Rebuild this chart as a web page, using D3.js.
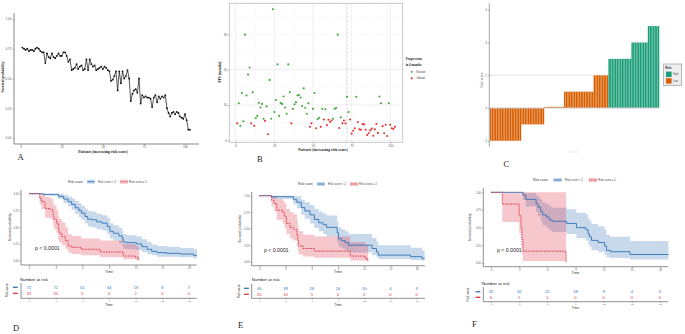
<!DOCTYPE html>
<html lang="en">
<head>
<meta charset="UTF-8">
<script src="https://cdn.jsdelivr.net/npm/d3@7"></script>
<title>Risk score figure</title>
<style>
  body { margin:0; background:#fff; }
  svg { display:block; font-family:"Liberation Sans", Arial, sans-serif; }
</style>
</head>
<body>
<div id="container"></div>
<script>
// ---------- data ----------
// A: survival probability per patient, ordered by risk score
var survA = [0.76,0.75,0.74,0.75,0.73,0.74,0.74,0.73,0.75,0.76,0.75,0.73,0.72,0.72,0.63,0.71,0.68,0.67,0.71,0.68,
             0.67,0.69,0.71,0.69,0.69,0.72,0.72,0.69,0.64,0.66,0.57,0.58,0.59,0.62,0.58,0.60,0.61,0.57,0.58,0.66,
             0.57,0.66,0.62,0.60,0.61,0.57,0.58,0.59,0.60,0.58,0.60,0.59,0.57,0.56,0.48,0.49,0.52,0.56,0.40,0.56,
             0.46,0.56,0.50,0.52,0.57,0.50,0.31,0.37,0.40,0.41,0.38,0.50,0.29,0.36,0.34,0.35,0.34,0.34,0.33,0.26,
             0.34,0.36,0.30,0.35,0.33,0.35,0.34,0.36,0.25,0.21,0.18,0.21,0.22,0.20,0.22,0.21,0.18,0.17,0.16,0.20,
             0.15,0.07,0.07];
var ticksA = [0, 25, 50, 75, 100];
var ticksSurv = [0, 0.25, 0.5, 0.75, 1];

// B: PFS (months) and progression in 6 months (1 = Present, 0 = Absent)
var pfsB = [4.8,10.5,4.1,13.4,5.4,29.9,12.7,18.6,20.6,4.8,13.6,4.1,6.3,6.9,10.6,9.3,10.3,6.1,5.5,9.6,
            1.7,17.1,6.1,37.1,8.0,11.4,21.5,6.9,10.6,10.3,12.4,9.3,7.5,21.5,13.6,4.8,8.9,10.2,10.8,12.7,
            12.8,12.1,9.7,14.7,9.2,7.5,10.5,3.8,4.8,8.9,13.4,3.4,6.0,6.4,3.8,8.9,5.9,8.8,4.3,5.8,
            5.2,5.6,6.1,8.9,9.2,29.9,3.5,6.5,4.8,5.6,4.8,12.3,8.0,5.9,1.9,2.7,3.4,12.3,5.2,3.1,
            3.0,4.6,4.5,3.0,1.5,2.0,2.8,3.3,1.3,3.1,4.6,2.1,12.4,10.5,4.0,2.0,4.4,1.2,10.5,4.4,
            3.4,3.2,3.8];
var progB = [0,1,1,1,1,1,1,1,1,0,1,0,1,1,1,1,1,1,0,1,
             0,1,1,1,1,1,1,1,1,1,1,1,1,1,1,0,1,1,1,1,
             1,1,1,1,1,1,1,0,0,1,1,0,1,1,0,1,0,1,0,0,
             0,0,1,1,1,1,0,1,0,0,0,1,1,0,0,0,0,1,0,0,
             0,0,0,0,0,0,0,0,0,0,0,0,1,1,0,0,0,0,1,0,
             0,0,0];
var ticksPfs = [0, 10, 20, 30];
var cutB = 72;

// C: risk score levels and how many patients have each
var riskLevels = [-2, -1, 0, 1, 2, 3, 4, 5];
var riskCounts = [19, 14, 12, 18, 9, 14, 10, 7];
var riskGroups = ["Low", "Low", "Low", "Low", "Low", "High", "High", "High"];
var ticksRisk = [-2, 0, 2, 4, 6];

// D-F: Kaplan-Meier steps (time, survival, lower / upper CI)
var ticksTime = [0, 3, 6, 9, 12, 15, 18];

var D_low = {t:[0,1.6,3.3,3.9,4.4,4.8,5.2,5.6,5.9,6.3,6.6,7.1,7.6,8.2,8.8,9.1,9.5,10.1,10.5,10.6,11.0,12.1,12.7,13.3,13.8,14.4,15.5,17.0,18.5],
             s:[1,0.99,0.96,0.92,0.88,0.84,0.79,0.75,0.71,0.66,0.62,0.61,0.58,0.56,0.51,0.44,0.41,0.37,0.33,0.28,0.27,0.25,0.21,0.17,0.14,0.12,0.11,0.10,0.08],
             hi:[1,1,1,0.98,0.96,0.93,0.89,0.86,0.82,0.78,0.74,0.73,0.70,0.68,0.64,0.56,0.53,0.49,0.45,0.40,0.38,0.36,0.32,0.28,0.24,0.22,0.21,0.19,0.17],
             lo:[1,0.97,0.92,0.86,0.81,0.76,0.70,0.65,0.61,0.56,0.51,0.50,0.47,0.45,0.40,0.33,0.30,0.26,0.22,0.18,0.17,0.16,0.13,0.10,0.08,0.06,0.06,0.05,0.035],
             end:18.9};
var D_high = {t:[0,1.2,1.4,1.8,2.4,2.7,2.8,3.1,3.3,3.4,3.7,4.1,4.4,4.8,5.9,8.0,10.6,12.0,12.3],
              s:[1,0.93,0.88,0.78,0.76,0.68,0.62,0.56,0.46,0.41,0.36,0.30,0.22,0.20,0.17,0.13,0.07,0.05,0.02],
              hi:[1,1,1,0.95,0.93,0.87,0.82,0.76,0.66,0.62,0.57,0.50,0.40,0.37,0.33,0.30,0.25,0.22,0.20],
              lo:[1,0.84,0.77,0.64,0.62,0.53,0.47,0.41,0.31,0.27,0.23,0.18,0.12,0.10,0.08,0.05,0.02,0.01,0],
              end:12.4};
var D_riskLow = [72, 71, 51, 34, 19, 8, 7];
var D_riskHigh = [31, 20, 5, 4, 2, 0, 0];

var E_low = {t:[0,1.4,3.9,4.3,4.8,5.2,5.8,6.3,6.8,7.3,7.7,8.9,9.05,9.4,9.8,10.2,12.9,13.4,13.6,17.3,18.6],
             s:[1,0.985,0.94,0.90,0.82,0.77,0.71,0.64,0.59,0.56,0.52,0.44,0.35,0.32,0.29,0.25,0.20,0.15,0.10,0.076,0.05],
             hi:[1,1,1,0.99,0.94,0.90,0.86,0.80,0.76,0.73,0.70,0.61,0.52,0.49,0.46,0.42,0.36,0.31,0.25,0.21,0.17],
             lo:[1,0.95,0.87,0.81,0.71,0.65,0.58,0.51,0.46,0.42,0.38,0.30,0.23,0.20,0.17,0.14,0.10,0.07,0.04,0.025,0.01],
             end:18.9};
var E_high = {t:[0,1.4,1.7,2.0,2.7,2.9,3.1,3.5,3.9,4.3,4.4,4.5,5.0,6.3,10.4,12.1,12.4],
              s:[1,0.93,0.88,0.78,0.74,0.68,0.58,0.52,0.49,0.40,0.32,0.24,0.20,0.16,0.086,0.05,0.015],
              hi:[1,1,1,0.95,0.92,0.88,0.80,0.75,0.72,0.63,0.55,0.46,0.41,0.38,0.30,0.26,0.24],
              lo:[1,0.84,0.76,0.63,0.58,0.51,0.42,0.35,0.32,0.24,0.17,0.11,0.08,0.06,0.02,0.01,0],
              end:12.45};
var E_riskLow = [40, 39, 28, 16, 10, 4, 3];
var E_riskHigh = [25, 16, 5, 4, 2, 0, 0];

var F_low = {t:[0,3.4,3.7,4.8,5.0,5.3,5.5,5.9,6.2,6.5,8.05,9.1,10.1,10.35,10.5,10.7,11.4,12.1,12.3,12.7,14.8],
             s:[1,0.96,0.90,0.84,0.79,0.73,0.68,0.65,0.61,0.59,0.56,0.50,0.47,0.41,0.37,0.32,0.29,0.24,0.18,0.16,0.12],
             hi:[1,1,0.99,0.96,0.93,0.89,0.85,0.83,0.80,0.78,0.76,0.71,0.69,0.63,0.60,0.55,0.52,0.47,0.40,0.37,0.31],
             lo:[1,0.89,0.80,0.72,0.66,0.59,0.53,0.50,0.46,0.44,0.41,0.35,0.32,0.26,0.23,0.18,0.16,0.12,0.08,0.07,0.05],
             end:18.9};
var F_high = {t:[0,1.2,3.0,3.2,3.3,3.4,8.0],
              s:[1,0.833,0.667,0.5,0.333,0.167,0],
              hi:[1,1,1,1,1,1,0],
              lo:[1,0.58,0.42,0.25,0.12,0.03,0],
              end:8.0};
var F_riskLow = [32, 32, 22, 18, 9, 4, 4];
var F_riskHigh = [6, 5, 1, 0, 0, 0, 0];

// ---------- drawing ----------
var svg = d3.select("#container").append("svg").attr("width", 685).attr("height", 334);
var serif = "'Liberation Serif', 'Times New Roman', serif";
var blue = "#3274b8", red = "#dc2f41";

function styleAxis(sel, fs) {
    sel.select(".domain").remove();
    sel.selectAll("line").attr("stroke", "#444").attr("stroke-width", 0.4);
    sel.selectAll("text").attr("font-size", fs).attr("fill", "#555");
}
function vline(x, y0, y1, col, w) {
    svg.append("line").attr("x1", x).attr("x2", x).attr("y1", y0).attr("y2", y1)
        .attr("stroke", col || "#444").attr("stroke-width", w || 0.6);
}
function hline(y, x0, x1, col, w) {
    svg.append("line").attr("x1", x0).attr("x2", x1).attr("y1", y).attr("y2", y)
        .attr("stroke", col || "#444").attr("stroke-width", w || 0.6);
}
function label(txt, x, y, fs, opt) {
    opt = opt || {};
    var t = svg.append("text").attr("x", x).attr("y", y).attr("font-size", fs).text(txt)
        .attr("text-anchor", opt.anchor || "start").attr("fill", opt.fill || "#222");
    if (opt.serif) t.attr("font-family", serif);
    if (opt.bold) t.attr("font-weight", "bold");
    if (opt.rotate) t.attr("transform", "rotate(-90," + x + "," + y + ")");
    return t;
}

// ===== A: survival probability line =====
var xA = d3.scaleLinear().domain([0, 100]).range([20.7, 185]);
var yA = d3.scaleLinear().domain([0, 1]).range([138, 19]);
svg.append("g").attr("transform", "translate(14,0)")
    .call(d3.axisLeft(yA).tickValues(ticksSurv).tickFormat(d3.format(".2f")).tickSize(1.2).tickPadding(1.5))
    .call(styleAxis, 3);
svg.append("g").attr("transform", "translate(0,144)")
    .call(d3.axisBottom(xA).tickValues(ticksA).tickSize(1.2).tickPadding(1))
    .call(styleAxis, 3);
vline(14, 13, 144, "#555", 0.7);
hline(144, 14, 199, "#555", 0.7);
svg.append("path").datum(survA)
    .attr("fill", "none").attr("stroke", "#111").attr("stroke-width", 0.7)
    .attr("d", d3.line().x(function(d, i) { return xA(i + 1); }).y(function(d) { return yA(d); }));
svg.append("g").selectAll("circle").data(survA).join("circle")
    .attr("cx", function(d, i) { return xA(i + 1); }).attr("cy", function(d) { return yA(d); })
    .attr("r", 0.9).attr("fill", "#111");
label("Survival probability", 4.3, 77, 3.6, {serif:true, bold:true, rotate:true, anchor:"middle"});
label("Patients (increasing risk score)", 103, 152.8, 3.8, {serif:true, bold:true, anchor:"middle"});
label("A", 17.5, 160, 8.5, {serif:true});

// ===== B: PFS scatter =====
var xB = d3.scaleLinear().domain([0, 100]).range([235.7, 390.3]);
var yB = d3.scaleLinear().domain([0, 30]).range([140.3, 34.3]);
var pB = {x0:229.3, x1:402.7, y0:3.3, y1:142.3};
svg.append("rect").attr("x", pB.x0).attr("y", pB.y0).attr("width", pB.x1 - pB.x0).attr("height", pB.y1 - pB.y0)
    .attr("fill", "#fff");
var gridB = svg.append("g");
[12.5, 37.5, 62.5, 87.5].forEach(function(v) {
    gridB.append("line").attr("x1", xB(v)).attr("x2", xB(v)).attr("y1", pB.y0).attr("y2", pB.y1)
        .attr("stroke", "#f2f2f2").attr("stroke-width", 0.4);
});
[5, 15, 25, 35].forEach(function(v) {
    gridB.append("line").attr("y1", yB(v)).attr("y2", yB(v)).attr("x1", pB.x0).attr("x2", pB.x1)
        .attr("stroke", "#f2f2f2").attr("stroke-width", 0.4);
});
ticksA.forEach(function(v) {
    gridB.append("line").attr("x1", xB(v)).attr("x2", xB(v)).attr("y1", pB.y0).attr("y2", pB.y1)
        .attr("stroke", "#e6e6e6").attr("stroke-width", 0.6);
});
ticksPfs.forEach(function(v) {
    gridB.append("line").attr("y1", yB(v)).attr("y2", yB(v)).attr("x1", pB.x0).attr("x2", pB.x1)
        .attr("stroke", "#e6e6e6").attr("stroke-width", 0.6);
});
svg.append("line").attr("x1", xB(cutB)).attr("x2", xB(cutB)).attr("y1", pB.y0).attr("y2", pB.y1)
    .attr("stroke", "#cfcfcf").attr("stroke-width", 0.9).attr("stroke-dasharray", "2.5,1.5");
svg.append("rect").attr("x", pB.x0).attr("y", pB.y0).attr("width", pB.x1 - pB.x0).attr("height", pB.y1 - pB.y0)
    .attr("fill", "none").attr("stroke", "#bdbdbd").attr("stroke-width", 0.8);
svg.append("g").attr("transform", "translate(" + pB.x0 + ",0)")
    .call(d3.axisLeft(yB).tickValues(ticksPfs).tickSize(1.3).tickPadding(1))
    .call(styleAxis, 3);
svg.append("g").attr("transform", "translate(0," + pB.y1 + ")")
    .call(d3.axisBottom(xB).tickValues(ticksA).tickSize(1.3).tickPadding(0.8))
    .call(styleAxis, 3);
svg.append("g").selectAll("circle").data(pfsB).join("circle")
    .attr("cx", function(d, i) { return xB(i + 1); }).attr("cy", function(d) { return yB(d); })
    .attr("r", 1.05).attr("fill", function(d, i) { return progB[i] ? "#3da83a" : "#e8302e"; });
label("PFS (months)", 221, 72, 3.6, {serif:true, bold:true, rotate:true, anchor:"middle"});
label("Patients (increasing risk score)", 323, 150.8, 3.8, {serif:true, bold:true, anchor:"middle"});
label("Progression", 405.7, 60.3, 3.2, {serif:true, bold:true});
label("in 6 months", 405.7, 65.5, 3.2, {serif:true, bold:true});
svg.append("circle").attr("cx", 411.7).attr("cy", 71.7).attr("r", 1).attr("fill", "#3da83a");
svg.append("circle").attr("cx", 411.7).attr("cy", 78.3).attr("r", 1).attr("fill", "#e8302e");
label("Present", 416.3, 72.8, 3, {serif:true});
label("Absent", 416.3, 79.4, 3, {serif:true});
label("B", 257, 162, 8.5, {serif:true});

// ===== C: risk score waterfall =====
var riskC = [], groupC = [];
riskLevels.forEach(function(v, i) {
    for (var k = 0; k < riskCounts[i]; k++) { riskC.push(v); groupC.push(riskGroups[i]); }
});
var xC = d3.scaleBand().domain(d3.range(riskC.length)).range([490, 659.3]).padding(0);
var yC = d3.scaleLinear().domain([-2, 6]).range([140.8, 9.6]);
var colC = {High:"#1b9e77", Low:"#d95f02"};
hline(yC(2), 489.3, 659.3, "#c8c8c8", 0.5);
svg.select("line:last-child").attr("stroke-dasharray", "1,1");
svg.append("g").selectAll("rect").data(riskC).join("rect")
    .attr("x", function(d, i) { return xC(i); })
    .attr("width", xC.bandwidth())
    .attr("y", function(d) { return d > 0 ? yC(d) : (d === 0 ? yC(0) - 1.2 : yC(0)); })
    .attr("height", function(d) { return d === 0 ? 1.2 : Math.abs(yC(d) - yC(0)); })
    .attr("fill", function(d, i) { return colC[groupC[i]]; })
    .attr("stroke", "#fff").attr("stroke-opacity", 0.45).attr("stroke-width", 0.25);
hline(yC(0), 489.3, 659.3, "#c4c4c4", 0.8);
svg.append("g").attr("transform", "translate(489.3,0)")
    .call(d3.axisLeft(yC).tickValues(ticksRisk).tickSize(1.2).tickPadding(1))
    .call(styleAxis, 2.8);
vline(489.3, 3.3, 146.7, "#666", 0.6);
label("Risk score", 483, 80, 3.2, {rotate:true, anchor:"middle", fill:"#666"});
label("Patient", 573, 153, 3, {anchor:"middle", fill:"#e6e6e6"});
svg.append("rect").attr("x", 663.3).attr("y", 64).attr("width", 18.4).attr("height", 21.3)
    .attr("fill", "#eeeeee").attr("stroke", "#9a9a9a").attr("stroke-width", 0.7);
label("Risk", 665.3, 68.6, 2.8, {bold:true});
svg.append("rect").attr("x", 666).attr("y", 71.6).attr("width", 5.6).attr("height", 5.4).attr("fill", colC.High);
svg.append("rect").attr("x", 666).attr("y", 78.2).attr("width", 5.6).attr("height", 5.4).attr("fill", colC.Low);
label("High", 673, 75.4, 2.6, {fill:"#555"});
label("Low", 673, 82, 2.6, {fill:"#555"});
label("C", 503.5, 167, 8.5, {serif:true});

// ===== D-F: Kaplan-Meier panels =====
function kmPanel(o) {
    var x = d3.scaleLinear().domain([0, 18]).range(o.xr);
    var y = d3.scaleLinear().domain([0, 1]).range(o.yr);
    var g = svg.append("g");
    var curves = [{c:o.low, col:blue, dash:null}, {c:o.high, col:red, dash:"1.6,1"}];
    curves.forEach(function(k) {
        var c = k.c;
        var pts = c.t.map(function(t, j) { return {t:t, s:c.s[j], lo:c.lo[j], hi:c.hi[j]}; });
        var last = pts[pts.length - 1];
        pts.push({t:c.end, s:last.s, lo:last.lo, hi:last.hi});
        k.pts = pts;
        g.append("path").datum(pts).attr("fill", k.col).attr("fill-opacity", 0.27)
            .attr("d", d3.area().curve(d3.curveStepAfter)
                .x(function(d) { return x(d.t); })
                .y0(function(d) { return y(d.lo); })
                .y1(function(d) { return y(d.hi); }));
    });
    curves.forEach(function(k) {
        g.append("path").datum(k.pts).attr("fill", "none").attr("stroke", k.col)
            .attr("stroke-width", 0.9).attr("stroke-dasharray", k.dash)
            .attr("d", d3.line().curve(d3.curveStepAfter)
                .x(function(d) { return x(d.t); })
                .y(function(d) { return y(d.s); }));
    });
    // axes of the curve plot
    svg.append("g").attr("transform", "translate(" + o.axX + ",0)")
        .call(d3.axisLeft(y).tickValues(ticksSurv).tickFormat(d3.format(".2f")).tickSize(1.2).tickPadding(1))
        .call(styleAxis, 2.7);
    svg.append("g").attr("transform", "translate(0," + o.axY + ")")
        .call(d3.axisBottom(x).tickValues(ticksTime).tickSize(1.2).tickPadding(0.8))
        .call(styleAxis, 2.7);
    vline(o.axX, o.axTop, o.axY, "#444", 0.6);
    hline(o.axY, o.axX, o.axRight, "#444", 0.6);
    label("Survival probability", o.ylabX, (o.axTop + o.axY) / 2, 3.3, {rotate:true, anchor:"middle", fill:"#333"});
    label("Time", x(9), o.axY + 7.5, 3.6, {anchor:"middle", fill:"#333"});
    label("p < 0.0001", o.pX, o.pY, 5.2, {fill:"#222"});

    // legend on top
    var ls = o.ls || 1, lx = o.legX, ly = o.legY;
    label("Risk score", lx, ly + 1.2, 3.2, {fill:"#333"});
    [[blue, null, "Risk score < 2", 19, 30], [red, "1.2,0.8", "Risk score \u2265 2", 52, 61]].forEach(function(it) {
        var kx = lx + it[3] * ls;
        svg.append("rect").attr("x", kx).attr("y", ly - 2).attr("width", 8 * ls).attr("height", 4)
            .attr("fill", it[0]).attr("fill-opacity", 0.27);
        svg.append("line").attr("x1", kx + 0.5).attr("x2", kx + 8 * ls - 0.5).attr("y1", ly).attr("y2", ly)
            .attr("stroke", it[0]).attr("stroke-width", 0.9).attr("stroke-dasharray", it[1]);
        label(it[2], lx + it[4] * ls, ly + 1, 2.8, {fill:"#444"});
    });

    // number at risk table
    label("Number at risk", o.tabX, o.tabTitleY, 4.3, {fill:"#222"});
    svg.append("g").selectAll("text").data(o.riskLow).join("text")
        .attr("x", function(d, i) { return x(ticksTime[i]); }).attr("y", o.rowLow + 1.5)
        .attr("text-anchor", "middle").attr("font-size", 4.1).attr("fill", blue).text(function(d) { return d; });
    svg.append("g").selectAll("text").data(o.riskHigh).join("text")
        .attr("x", function(d, i) { return x(ticksTime[i]); }).attr("y", o.rowHigh + 1.5)
        .attr("text-anchor", "middle").attr("font-size", 4.1).attr("fill", red).text(function(d) { return d; });
    hline(o.rowLow, o.dashX, o.dashX + 4.8, blue, 1.3);
    hline(o.rowHigh, o.dashX, o.dashX + 4.8, red, 1.3);
    vline(o.axX, o.tabTop, o.tabAxY, "#444", 0.6);
    hline(o.tabAxY, o.axX, o.axRight, "#444", 0.6);
    svg.append("g").attr("transform", "translate(0," + o.tabAxY + ")")
        .call(d3.axisBottom(x).tickValues(ticksTime).tickSize(1.2).tickPadding(0.8))
        .call(styleAxis, 2.5);
    label("Time", x(9), o.tabAxY + 7.2, 3.4, {anchor:"middle", fill:"#333"});
    label("Risk score", o.tabLabX, (o.rowLow + o.rowHigh) / 2, 3, {rotate:true, anchor:"middle", fill:"#333"});
    label(o.letter, o.letX, o.letY, 8.5, {serif:true});
}

kmPanel({low:D_low, high:D_high, riskLow:D_riskLow, riskHigh:D_riskHigh,
         xr:[29, 189], yr:[260.7, 193.7], axX:21, axTop:190, axY:265, axRight:196.7,
         ylabX:10.5, pX:35, pY:250, legX:68, legY:181.7,
         tabX:20, tabTitleY:280.5, rowLow:287.3, rowHigh:293.3, tabTop:283, tabAxY:298.3,
         dashX:13, tabLabX:8.5, letter:"D", letX:13, letY:331});
kmPanel({low:E_low, high:E_high, riskLow:E_riskLow, riskHigh:E_riskHigh,
         xr:[259.3, 416.7], yr:[261.7, 195.7], axX:251.7, axTop:192, axY:265.7, axRight:425,
         ylabX:241, pX:264, pY:251.5, legX:298, legY:184,
         tabX:251.7, tabTitleY:281, rowLow:288.3, rowHigh:294.3, tabTop:284, tabAxY:298.3,
         dashX:244, tabLabX:240.5, letter:"E", letX:238, letY:328});
kmPanel({low:F_low, high:F_high, riskLow:F_riskLow, riskHigh:F_riskHigh,
         xr:[491, 660], yr:[263, 192.3], axX:483.3, axTop:188, axY:266.7, axRight:668.3, ls:1.07,
         ylabX:471, pX:497, pY:251.5, legX:533, legY:180,
         tabX:481.7, tabTitleY:285, rowLow:291.7, rowHigh:297.3, tabTop:287, tabAxY:301.7,
         dashX:475.5, tabLabX:469, letter:"F", letX:472, letY:327});
</script>
</body>
</html>
